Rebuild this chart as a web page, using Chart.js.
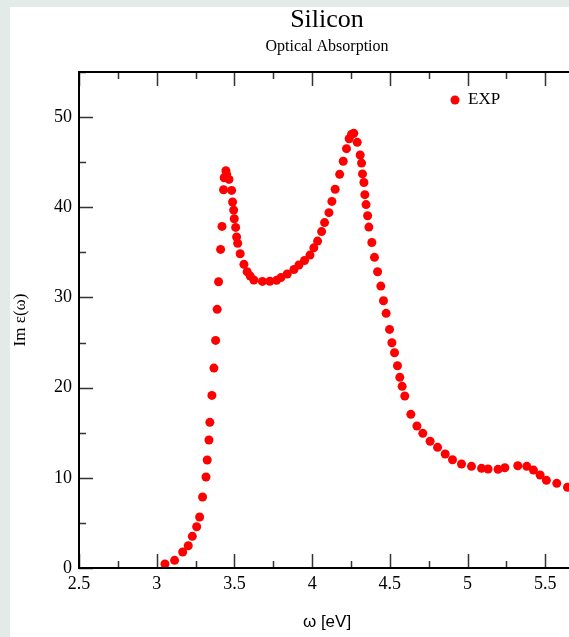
<!DOCTYPE html>
<html lang="en">
<head>
    <meta charset="UTF-8" />
    <title>Silicon - Optical Absorption</title>
    <style>
        html, body {
            margin: 0;
            width: 569px;
            height: 637px;
            overflow: hidden;
            background: #e2ebe7;
        }
        .panel {
            position: absolute;
            left: 10px;
            top: 7px;
            width: 700px;
            height: 700px;
            background: #fff;
        }
        canvas {
            display: block;
        }
    </style>
</head>
<body>
    <div class="panel">
        <canvas id="absChart" width="634" height="630"></canvas>
    </div>

    <script src="https://cdn.jsdelivr.net/npm/chart.js"></script>
    <script>
        // experimental Im eps(omega) for Si, photon energy in eV
        const energy = [
            3.053, 3.115, 3.167, 3.203, 3.229, 3.257, 3.276, 3.295, 3.317, 3.325,
            3.336, 3.342, 3.355, 3.368, 3.379, 3.389, 3.398, 3.411, 3.420, 3.430,
            3.434, 3.445, 3.450, 3.465, 3.482, 3.488, 3.495, 3.499, 3.508, 3.514,
            3.521, 3.537, 3.561, 3.582, 3.602, 3.625, 3.680, 3.728, 3.771, 3.799,
            3.840, 3.883, 3.915, 3.951, 3.986, 4.011, 4.035, 4.061, 4.080, 4.108,
            4.127, 4.148, 4.177, 4.200, 4.221, 4.238, 4.254, 4.268, 4.290, 4.309,
            4.318, 4.324, 4.333, 4.339, 4.347, 4.357, 4.365, 4.384, 4.401, 4.421,
            4.442, 4.459, 4.476, 4.498, 4.513, 4.530, 4.549, 4.564, 4.579, 4.596,
            4.635, 4.674, 4.712, 4.759, 4.807, 4.856, 4.903, 4.961, 5.025, 5.090,
            5.132, 5.196, 5.240, 5.323, 5.381, 5.424, 5.467, 5.507, 5.574, 5.643
        ];
        const imEps = [
            0.44, 0.85, 1.77, 2.47, 3.51, 4.58, 5.65, 7.87, 10.09, 11.97,
            14.19, 16.15, 19.14, 22.17, 25.24, 28.68, 31.74, 35.33, 37.88, 41.94,
            43.27, 44.05, 43.65, 43.09, 41.87, 40.58, 39.69, 38.73, 37.77, 36.70,
            36.00, 34.85, 33.67, 32.85, 32.37, 31.93, 31.78, 31.80, 31.90, 32.20,
            32.60, 33.10, 33.60, 34.10, 34.70, 35.50, 36.25, 37.30, 38.30, 39.40,
            40.65, 42.00, 43.65, 45.10, 46.50, 47.60, 48.10, 48.20, 47.20, 45.80,
            44.90, 43.70, 42.75, 41.40, 40.30, 39.06, 37.80, 36.10, 34.45, 32.85,
            31.26, 29.64, 28.24, 26.46, 24.98, 23.87, 22.43, 21.14, 20.14, 19.07,
            17.04, 15.74, 14.93, 14.05, 13.38, 12.64, 12.00, 11.53, 11.27, 11.05,
            10.98, 10.94, 11.12, 11.34, 11.27, 10.86, 10.31, 9.72, 9.39, 8.95
        ];

        const xRange = [2.5, 6.0];
        const yRange = [0, 55];

        const serif = '"Liberation Serif", "Times New Roman", serif';
        const sans = '"Liberation Sans", Arial, sans-serif';

        // frame, inward ticks on all four sides, titles and legend
        const decorations = {
            id: 'decorations',
            afterDraw(chart) {
                const ctx = chart.ctx;
                const a = chart.chartArea;
                const xs = chart.scales.x;
                const ys = chart.scales.y;
                ctx.save();

                ctx.strokeStyle = '#333';
                ctx.lineWidth = 1.5;
                ctx.beginPath();
                for (let v = xRange[0]; v <= xRange[1] + 1e-9; v += 0.25) {
                    const px = Math.round(xs.getPixelForValue(v)) + 0.5;
                    const len = Math.abs(v * 2 - Math.round(v * 2)) < 1e-6 ? 14 : 7;
                    ctx.moveTo(px, a.bottom);
                    ctx.lineTo(px, a.bottom - len);
                    ctx.moveTo(px, a.top);
                    ctx.lineTo(px, a.top + len);
                }
                for (let v = yRange[0]; v <= yRange[1] + 1e-9; v += 5) {
                    const py = Math.round(ys.getPixelForValue(v)) + 0.5;
                    const len = v % 10 === 0 ? 14 : 7;
                    ctx.moveTo(a.left, py);
                    ctx.lineTo(a.left + len, py);
                    ctx.moveTo(a.right, py);
                    ctx.lineTo(a.right - len, py);
                }
                ctx.stroke();

                ctx.strokeStyle = '#000';
                ctx.lineWidth = 2;
                ctx.strokeRect(a.left, a.top, a.right - a.left, a.bottom - a.top);

                ctx.fillStyle = '#000';
                ctx.textAlign = 'center';
                ctx.textBaseline = 'middle';
                ctx.font = '26px ' + serif;
                ctx.fillText('Silicon', 317, 13);
                ctx.font = '16px ' + serif;
                ctx.fillText('Optical Absorption', 317, 40);

                ctx.font = '17px ' + sans;
                ctx.fillText('ω [eV]', 317, 615);

                ctx.save();
                ctx.translate(11, 313);
                ctx.rotate(-Math.PI / 2);
                ctx.font = '17px ' + serif;
                ctx.fillText('Im ε(ω)', 0, 0);
                ctx.restore();

                // legend
                ctx.fillStyle = '#ff0000';
                ctx.beginPath();
                ctx.arc(445, 93, 4.5, 0, Math.PI * 2);
                ctx.fill();
                ctx.fillStyle = '#000';
                ctx.textAlign = 'left';
                ctx.font = '17px ' + serif;
                ctx.fillText('EXP', 458, 93);

                ctx.restore();
            }
        };

        const ctx = document.getElementById('absChart').getContext('2d');
        new Chart(ctx, {
            type: 'scatter',
            data: {
                datasets: [{
                    label: 'EXP',
                    data: energy.map((e, i) => ({ x: e, y: imEps[i] })),
                    backgroundColor: '#ff0000',
                    borderWidth: 0,
                    pointRadius: 4.5,
                    pointHoverRadius: 4.5
                }]
            },
            options: {
                responsive: false,
                animation: false,
                layout: { padding: { top: 65, right: 21, left: 0, bottom: 0 } },
                plugins: {
                    legend: { display: false },
                    tooltip: { enabled: false }
                },
                scales: {
                    x: {
                        type: 'linear',
                        min: xRange[0],
                        max: xRange[1],
                        grid: { display: false, drawTicks: false },
                        border: { display: false },
                        ticks: {
                            stepSize: 0.5,
                            includeBounds: false,
                            padding: 5,
                            color: '#000',
                            font: { family: serif, size: 18 },
                            maxRotation: 0,
                            callback: v => String(Number(v.toFixed(2)))
                        },
                        afterFit(scale) { scale.height = 69; }
                    },
                    y: {
                        min: yRange[0],
                        max: yRange[1],
                        grid: { display: false, drawTicks: false },
                        border: { display: false },
                        ticks: {
                            stepSize: 10,
                            includeBounds: false,
                            padding: 7,
                            color: '#000',
                            font: { family: serif, size: 18 }
                        },
                        afterFit(scale) { scale.width = 69; }
                    }
                }
            },
            plugins: [decorations]
        });
    </script>
</body>
</html>
